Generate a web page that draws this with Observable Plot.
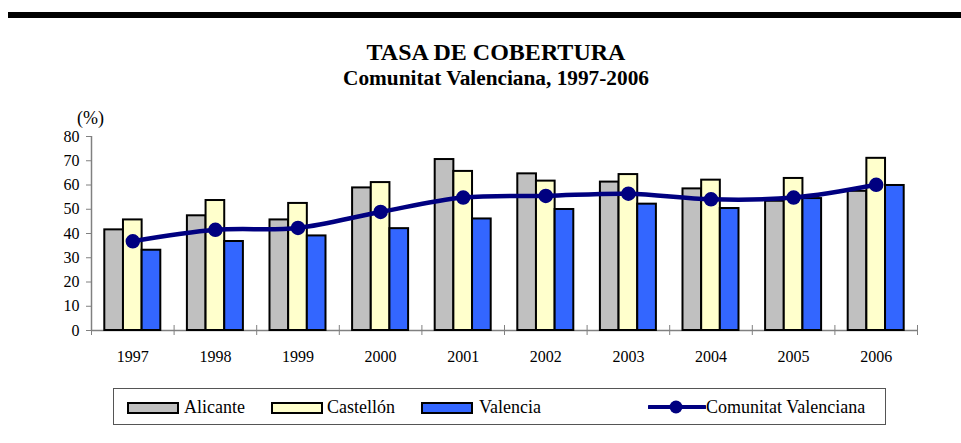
<!DOCTYPE html>
<html>
<head>
<meta charset="utf-8">
<script src="https://cdn.jsdelivr.net/npm/d3@7"></script>
<script src="https://cdn.jsdelivr.net/npm/@observablehq/plot@0.6"></script>
<style>
  html, body { margin: 0; padding: 0; background: #fff; }
  body { width: 961px; height: 443px; position: relative; overflow: hidden; font-family: "Liberation Serif", "Times New Roman", serif; color: #000; }
  .topbar { position: absolute; left: 8px; top: 12px; width: 953px; height: 6px; background: #000; }
  .title { position: absolute; left: 0; width: 992px; text-align: center; font-weight: bold; line-height: 1; white-space: nowrap; }
  #chart { position: absolute; left: 0; top: 100px; }
  .legend { position: absolute; left: 113px; top: 388px; width: 773px; height: 37px; box-sizing: border-box; border: 1px solid #555; }
  .sw { position: absolute; top: 13px; width: 52px; height: 12px; box-sizing: border-box; border: 2px solid #000; }
  .lt { position: absolute; top: 9px; font-size: 18px; line-height: 1; white-space: nowrap; }
  .lline { position: absolute; left: 534px; top: 9px; }
</style>
</head>
<body>
<div class="topbar"></div>
<div class="title" style="top:40px; font-size:24px;">TASA DE COBERTURA</div>
<div class="title" style="top:68px; font-size:21.3px;">Comunitat Valenciana, 1997-2006</div>
<div id="chart"></div>
<div class="legend" id="legend"></div>
<script>
const years = [1997, 1998, 1999, 2000, 2001, 2002, 2003, 2004, 2005, 2006];
const alicante = [41.5, 47.3, 45.6, 58.8, 70.5, 64.6, 61.2, 58.4, 53.3, 57.4];
const castellon = [45.6, 53.6, 52.4, 61.0, 65.6, 61.6, 64.3, 62.0, 62.7, 71.0];
const valencia = [33.1, 36.7, 39.0, 42.0, 46.0, 49.9, 52.1, 50.3, 54.4, 59.8];
const comunitat = [36.8, 41.5, 42.3, 48.9, 54.8, 55.5, 56.4, 54.1, 54.8, 60.1];
const seriesNames = ["Alicante", "Castellón", "Valencia"];
const lineName = "Comunitat Valenciana";
const yTicks = [0, 10, 20, 30, 40, 50, 60, 70, 80];
const colors = {"Alicante": "#C0C0C0", "Castellón": "#FFFFCC", "Valencia": "#3366FF"};
const lineColor = "#000080";

const seriesValues = [alicante, castellon, valencia];
const groupHalf = 0.339, barW = 0.226;
const bars = [];
seriesNames.forEach((name, s) => {
  years.forEach((yr, i) => {
    const x1 = yr - groupHalf + s * barW;
    bars.push({series: name, year: yr, value: seriesValues[s][i], x1, x2: x1 + barW});
  });
});
const linePts = years.map((yr, i) => ({year: yr, value: comunitat[i]}));
const bounds = years.map(y => y - 0.5).concat([years[years.length - 1] + 0.5]);
const serif = "'Liberation Serif', 'Times New Roman', serif";

const chart = Plot.plot({
  width: 961,
  height: 270,
  marginLeft: 91,
  marginRight: 44,
  marginTop: 36,
  marginBottom: 40,
  style: {fontFamily: serif, fontSize: "16px", color: "#000", background: "transparent", overflow: "visible"},
  x: {domain: [bounds[0], bounds[bounds.length - 1]], axis: null},
  y: {domain: [0, 80], axis: null},
  color: {domain: seriesNames, range: seriesNames.map(n => colors[n])},
  marks: [
    Plot.ruleY([0], {stroke: "#808080", strokeWidth: 1.5}),
    Plot.ruleX([bounds[0]], {y1: 0, y2: 80, stroke: "#808080", strokeWidth: 1.5}),
    Plot.ruleX(bounds, {y1: 0, y2: 0, insetTop: -5, insetBottom: -5, stroke: "#808080", strokeWidth: 1}),
    Plot.axisY({ticks: yTicks, tickSize: 5, tickPadding: 7, stroke: "#808080", fill: "#000", fontSize: 16, fontFamily: serif, label: null, tickFormat: d => String(d)}),
    Plot.axisX({ticks: years, tickSize: 0, tickPadding: 20, fill: "#000", fontSize: 16, fontFamily: serif, label: null, tickFormat: d => String(d)}),
    Plot.text(["(%)"], {frameAnchor: "top-left", lineAnchor: "middle", dx: -1, dy: -18, textAnchor: "middle", fontSize: 18, fontFamily: serif, fill: "#000"}),
    Plot.rectY(bars, {x1: "x1", x2: "x2", y1: 0, y2: "value", fill: "series", stroke: "#000", strokeWidth: 2}),
    Plot.line(linePts, {x: "year", y: "value", stroke: lineColor, strokeWidth: 4.5, curve: "catmull-rom"}),
    Plot.dot(linePts, {x: "year", y: "value", r: 6.5, fill: lineColor, stroke: lineColor})
  ]
});
document.getElementById("chart").appendChild(chart);

// Legend
const legend = document.getElementById("legend");
const swLeft = [13, 157, 307];
const txtLeft = [70, 213, 365];
seriesNames.forEach((n, i) => {
  const sw = document.createElement("div");
  sw.className = "sw";
  sw.style.left = swLeft[i] + "px";
  sw.style.background = colors[n];
  legend.appendChild(sw);
  const t = document.createElement("div");
  t.className = "lt";
  t.style.left = txtLeft[i] + "px";
  t.textContent = n;
  legend.appendChild(t);
});
const ns = "http://www.w3.org/2000/svg";
const svg = document.createElementNS(ns, "svg");
svg.setAttribute("width", "58"); svg.setAttribute("height", "18");
svg.setAttribute("class", "lline");
const ln = document.createElementNS(ns, "line");
ln.setAttribute("x1", "1"); ln.setAttribute("x2", "57"); ln.setAttribute("y1", "9"); ln.setAttribute("y2", "9");
ln.setAttribute("stroke", lineColor); ln.setAttribute("stroke-width", "4"); ln.setAttribute("stroke-linecap", "round");
svg.appendChild(ln);
const c = document.createElementNS(ns, "circle");
c.setAttribute("cx", "28"); c.setAttribute("cy", "9"); c.setAttribute("r", "6.5"); c.setAttribute("fill", lineColor);
svg.appendChild(c);
legend.appendChild(svg);
const lt = document.createElement("div");
lt.className = "lt"; lt.style.left = "592px"; lt.textContent = lineName;
legend.appendChild(lt);
</script>
</body>
</html>
